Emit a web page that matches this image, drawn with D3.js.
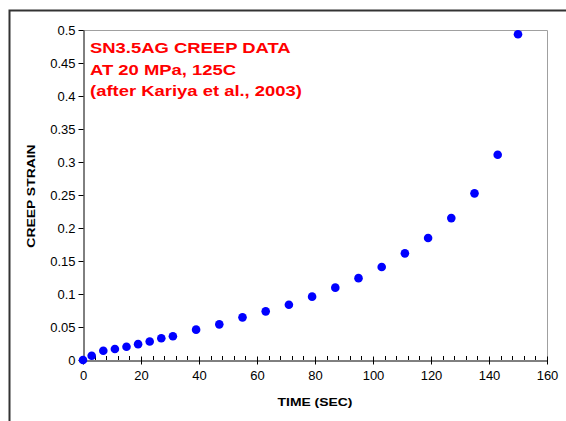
<!DOCTYPE html>
<html>
<head>
<meta charset="utf-8">
<script src="https://cdn.jsdelivr.net/npm/d3@7"></script>
<style>
  body { margin: 0; background: #fff; }
  svg { display: block; font-family: "Liberation Sans", Arial, sans-serif; }
</style>
</head>
<body>
<script>
// creep data
const timeSec = [0, 3, 7, 11, 15, 19, 23, 27, 31, 39, 47, 55, 63, 71, 79, 87, 95, 103, 111, 119, 127, 135, 143, 150];
const creepStrain = [0, 0.0065, 0.014, 0.0167, 0.020, 0.024, 0.028, 0.033, 0.036, 0.046, 0.054, 0.0646, 0.0737, 0.0838,
  0.096, 0.1096, 0.124, 0.141, 0.1616, 0.1848, 0.215, 0.2525, 0.311, 0.4935];
const xTicks = [0, 20, 40, 60, 80, 100, 120, 140, 160];
const yTicks = [0, 0.05, 0.1, 0.15, 0.2, 0.25, 0.3, 0.35, 0.4, 0.45, 0.5];
const noteLines = ["SN3.5AG CREEP DATA", "AT 20 MPa, 125C", "(after Kariya et al., 2003)"];

const width = 566, height = 421;
const plot = {left: 83, top: 30, right: 547, bottom: 360};
const stretch = 1.19; // the original's bold text is a bit wider than Arial

const svg = d3.select("body").append("svg")
  .attr("width", width)
  .attr("height", height);

// outer chart frame, runs off the right and bottom
svg.append("path")
  .attr("d", `M9.5,${height + 2}V10.5H${width + 2}`)
  .attr("fill", "none")
  .attr("stroke", "#333")
  .attr("stroke-width", 2);

const x = d3.scaleLinear().domain([0, 160]).range([plot.left, plot.right]);
const y = d3.scaleLinear().domain([0, 0.5]).range([plot.bottom, plot.top]);

// plot area border (top + right in gray)
svg.append("path")
  .attr("d", `M${plot.left},${plot.top + 0.5}H${plot.right + 0.5}V${plot.bottom}`)
  .attr("fill", "none")
  .attr("stroke", "#a0a0a0")
  .attr("stroke-width", 1);

// minor x ticks (inside)
const minor = d3.range(0, 161, 4).filter(v => v % 20 !== 0);
svg.append("g")
  .selectAll("line")
  .data(minor)
  .join("line")
    .attr("x1", d => Math.round(x(d)) + 0.5)
    .attr("x2", d => Math.round(x(d)) + 0.5)
    .attr("y1", plot.bottom)
    .attr("y2", plot.bottom - 4)
    .attr("stroke", "#000");

// x axis, major ticks crossing
const gx = svg.append("g")
  .attr("transform", `translate(0,${plot.bottom + 0.5})`)
  .call(d3.axisBottom(x).tickValues(xTicks).tickSize(4).tickSizeOuter(0).tickFormat(d3.format("d")));
gx.selectAll(".tick line").attr("y1", -4).attr("stroke", "#000");
gx.select(".domain").attr("stroke", "#000");
gx.selectAll("text")
  .attr("font-size", 13)
  .attr("font-family", "Liberation Sans, Arial, sans-serif")
  .attr("fill", "#000")
  .attr("dy", "0.71em")
  .attr("y", 10);

// y axis
const gy = svg.append("g")
  .attr("transform", `translate(${plot.left + 0.5},0)`)
  .call(d3.axisLeft(y).tickValues(yTicks).tickSize(5).tickSizeOuter(0).tickFormat(d => String(+d.toFixed(2))));
gy.select(".domain").attr("stroke", "#000");
gy.selectAll(".tick line").attr("stroke", "#000");
gy.selectAll("text")
  .attr("font-size", 13)
  .attr("font-family", "Liberation Sans, Arial, sans-serif")
  .attr("fill", "#000")
  .attr("x", -8);

// axis titles
svg.append("text")
  .attr("transform", `translate(${(plot.left + plot.right) / 2},406) scale(${stretch},1)`)
  .attr("text-anchor", "middle")
  .attr("font-size", 11.7)
  .attr("font-weight", "bold")
  .text("TIME (SEC)");

svg.append("text")
  .attr("transform", `translate(35,196) rotate(-90) scale(${stretch},1)`)
  .attr("text-anchor", "middle")
  .attr("font-size", 11.7)
  .attr("font-weight", "bold")
  .text("CREEP STRAIN");

// red note
svg.append("g")
  .attr("transform", `translate(90,0) scale(${stretch},1)`)
  .selectAll("text")
  .data(noteLines)
  .join("text")
    .attr("x", 0)
    .attr("y", (d, i) => 53.5 + i * 21.3)
    .attr("fill", "#ff0000")
    .attr("font-size", 15.5)
    .attr("font-weight", "bold")
    .text(d => d);

// data points
svg.append("g")
  .selectAll("circle")
  .data(timeSec.map((t, i) => [t, creepStrain[i]]))
  .join("circle")
    .attr("cx", d => x(d[0]))
    .attr("cy", d => y(d[1]))
    .attr("r", 4.3)
    .attr("fill", "#0000ff");
</script>
</body>
</html>
